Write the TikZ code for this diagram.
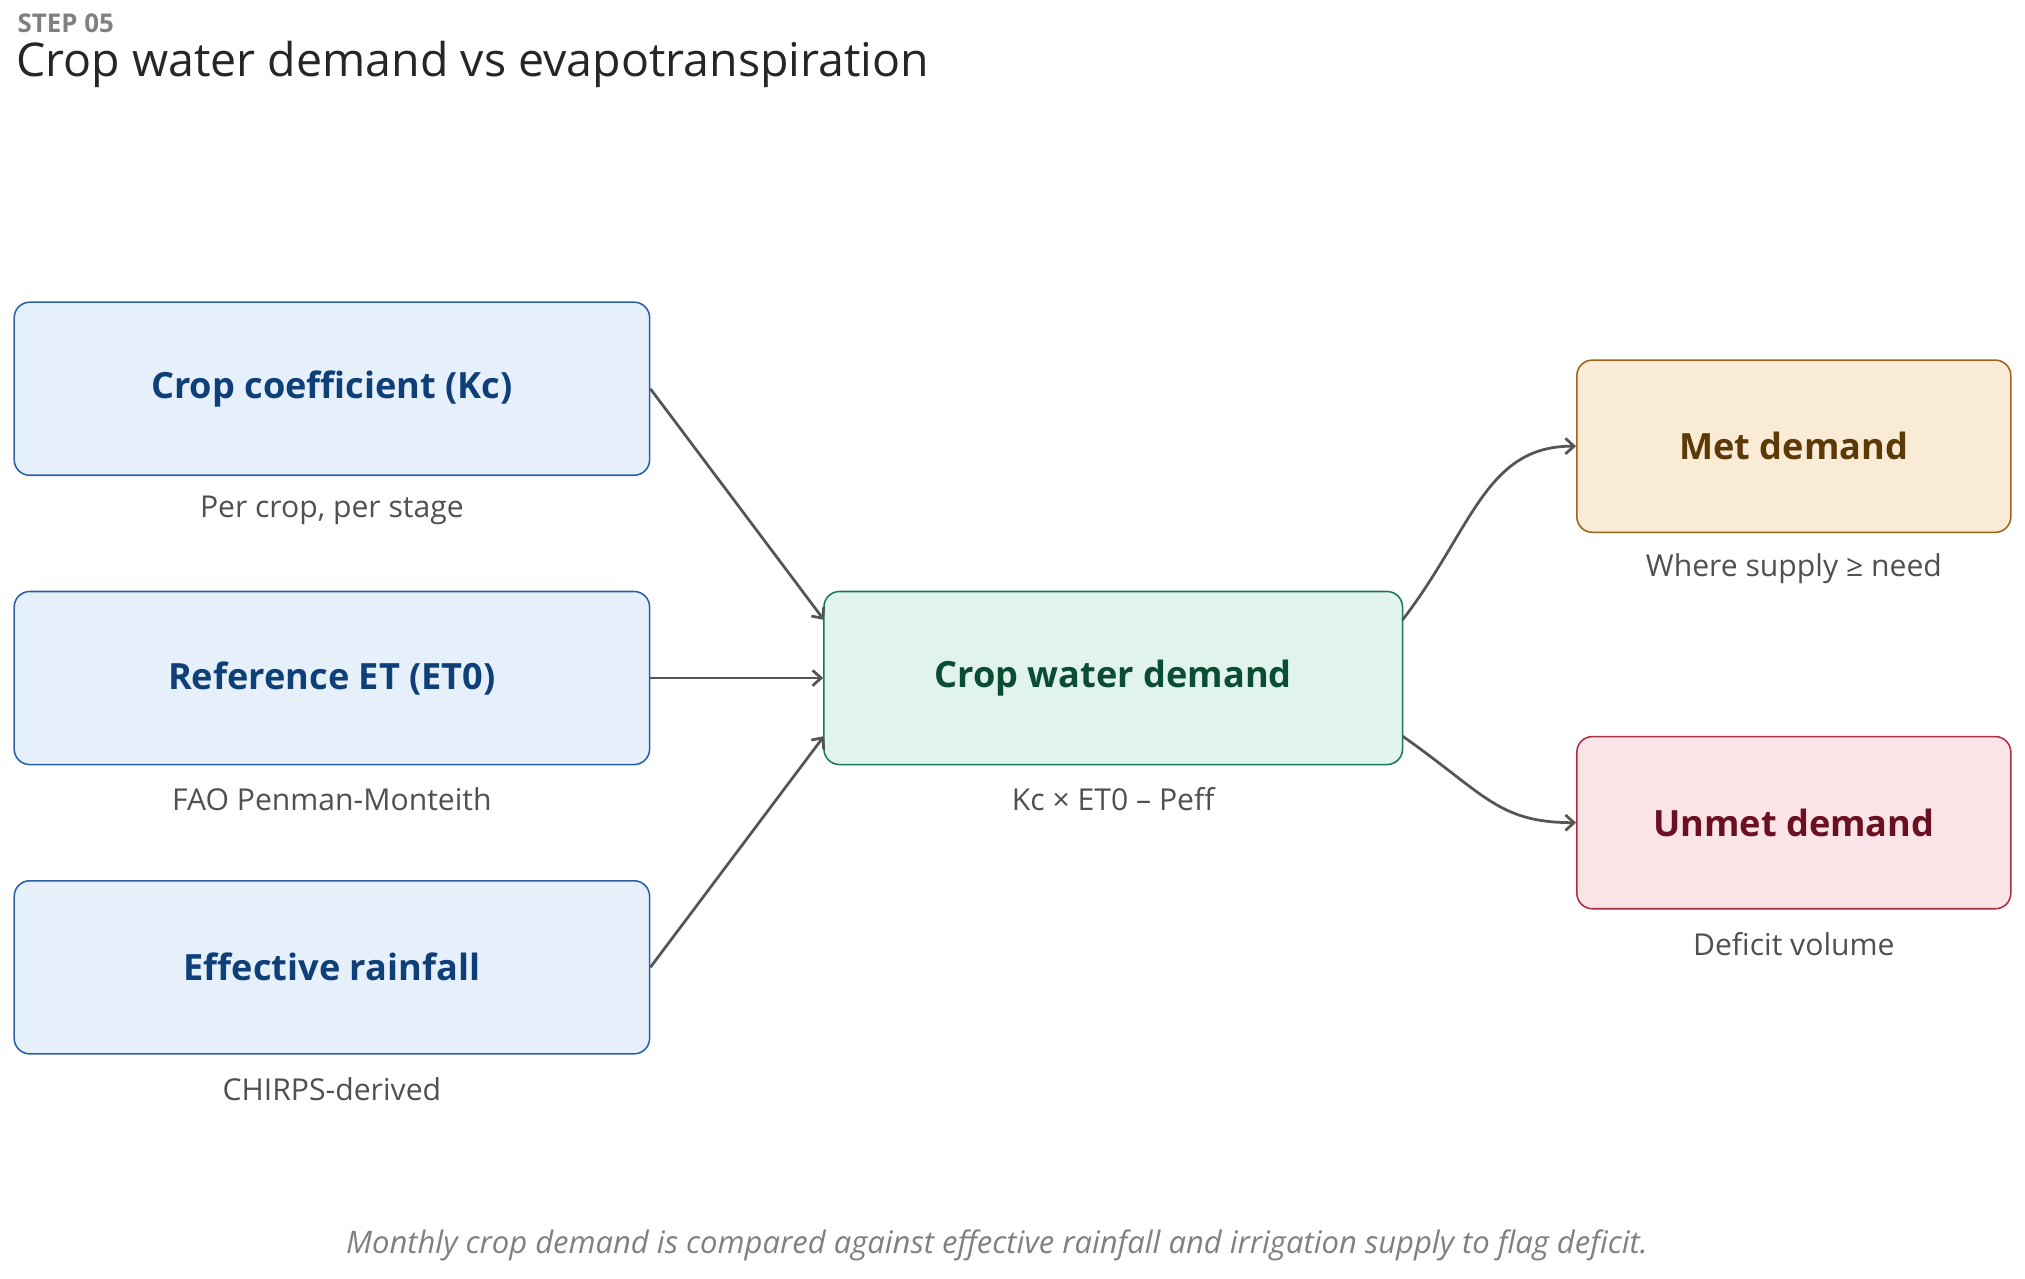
\documentclass[tikz,border=0pt]{standalone}
\usepackage{fontspec}
\setmainfont{Open Sans}
\usetikzlibrary{arrows.meta}
\definecolor{bluefill}{HTML}{E6F0FA}
\definecolor{blueline}{HTML}{2860A8}
\definecolor{bluetext}{HTML}{0E3F78}
\definecolor{greenfill}{HTML}{E0F3EC}
\definecolor{greenline}{HTML}{1B7A55}
\definecolor{greentext}{HTML}{0B4D33}
\definecolor{metfill}{HTML}{FAEBD7}
\definecolor{metline}{HTML}{A0621A}
\definecolor{mettext}{HTML}{5C3A06}
\definecolor{unmetfill}{HTML}{FAE4E8}
\definecolor{unmetline}{HTML}{A8303F}
\definecolor{unmettext}{HTML}{6B1020}
\definecolor{wire}{HTML}{555555}
\definecolor{subgray}{HTML}{505050}
\tikzset{
  box/.style={rounded corners=9pt, line width=0.9pt, font=\fontsize{21}{25}\selectfont\bfseries},
  inbox/.style={box, draw=blueline, fill=bluefill, text=bluetext},
  sub/.style={font=\fontsize{17.5}{21}\selectfont, text=subgray},
  link/.style={draw=wire, line width=1.6pt, -{Straight Barb[length=5pt,width=9pt]}}
}
\begin{document}
\begin{tikzpicture}[x=0.75pt,y=0.75pt,yscale=-1,xscale=1]
\useasboundingbox (0,0) rectangle (1568,990);

% Title
\node[anchor=west, text=gray, font=\fontsize{15}{18}\selectfont\bfseries] (step) at (9,18) {STEP 05};
\node[anchor=west, text=black!85, font=\fontsize{27}{32}\selectfont] (title) at (8,50) {Crop water demand vs evapotranspiration};

% Inputs
\node[inbox, minimum width=369pt, minimum height=100.5pt] (kc) at (257,301) {Crop coefficient (Kc)};
\node[inbox, minimum width=369pt, minimum height=100.5pt] (et) at (257,525) {Reference ET (ET0)};
\node[inbox, minimum width=369pt, minimum height=100.5pt] (rain) at (257,749) {Effective rainfall};
\node[sub] (kcs) at (257,395) {Per crop, per stage};
\node[sub] (ets) at (257,619) {FAO Penman-Monteith};
\node[sub] (rains) at (257,843) {CHIRPS-derived};

% Demand
\node[box, draw=greenline, fill=greenfill, text=greentext, minimum width=336pt, minimum height=100.5pt] (cwd) at (862,525) {Crop water demand};
\node[sub] (cwds) at (862,619) {Kc × ET0 – Peff};

% Outcomes
\node[box, draw=metline, fill=metfill, text=mettext, minimum width=252pt, minimum height=100pt] (met) at (1389,345.5) {Met demand};
\node[box, draw=unmetline, fill=unmetfill, text=unmettext, minimum width=252pt, minimum height=100pt] (unmet) at (1389,637) {Unmet demand};
\node[sub] (mets) at (1389,440) {Where supply ≥ need};
\node[sub] (unmets) at (1389,731) {Deficit volume};

% Connectors
\coordinate (cwdtop) at (638,480);
\coordinate (cwdbot) at (638,570);
\draw[link] (kc.east) -- (cwdtop);
\draw[link] (et.east) -- (cwd.west);
\draw[link] (rain.east) -- (cwdbot);
\coordinate (outtop) at (1086,480);
\coordinate (outbot) at (1086,570);
\draw[link] (outtop) .. controls (1140,410) and (1150,345) .. (met.west);
\draw[link] (outbot) .. controls (1150,615) and (1160,637) .. (unmet.west);

% Footnote
\node[text=gray, font=\fontsize{18}{22}\selectfont\itshape] (note) at (772,964) {Monthly crop demand is compared against effective rainfall and irrigation supply to flag deficit.};
\end{tikzpicture}
\end{document}
